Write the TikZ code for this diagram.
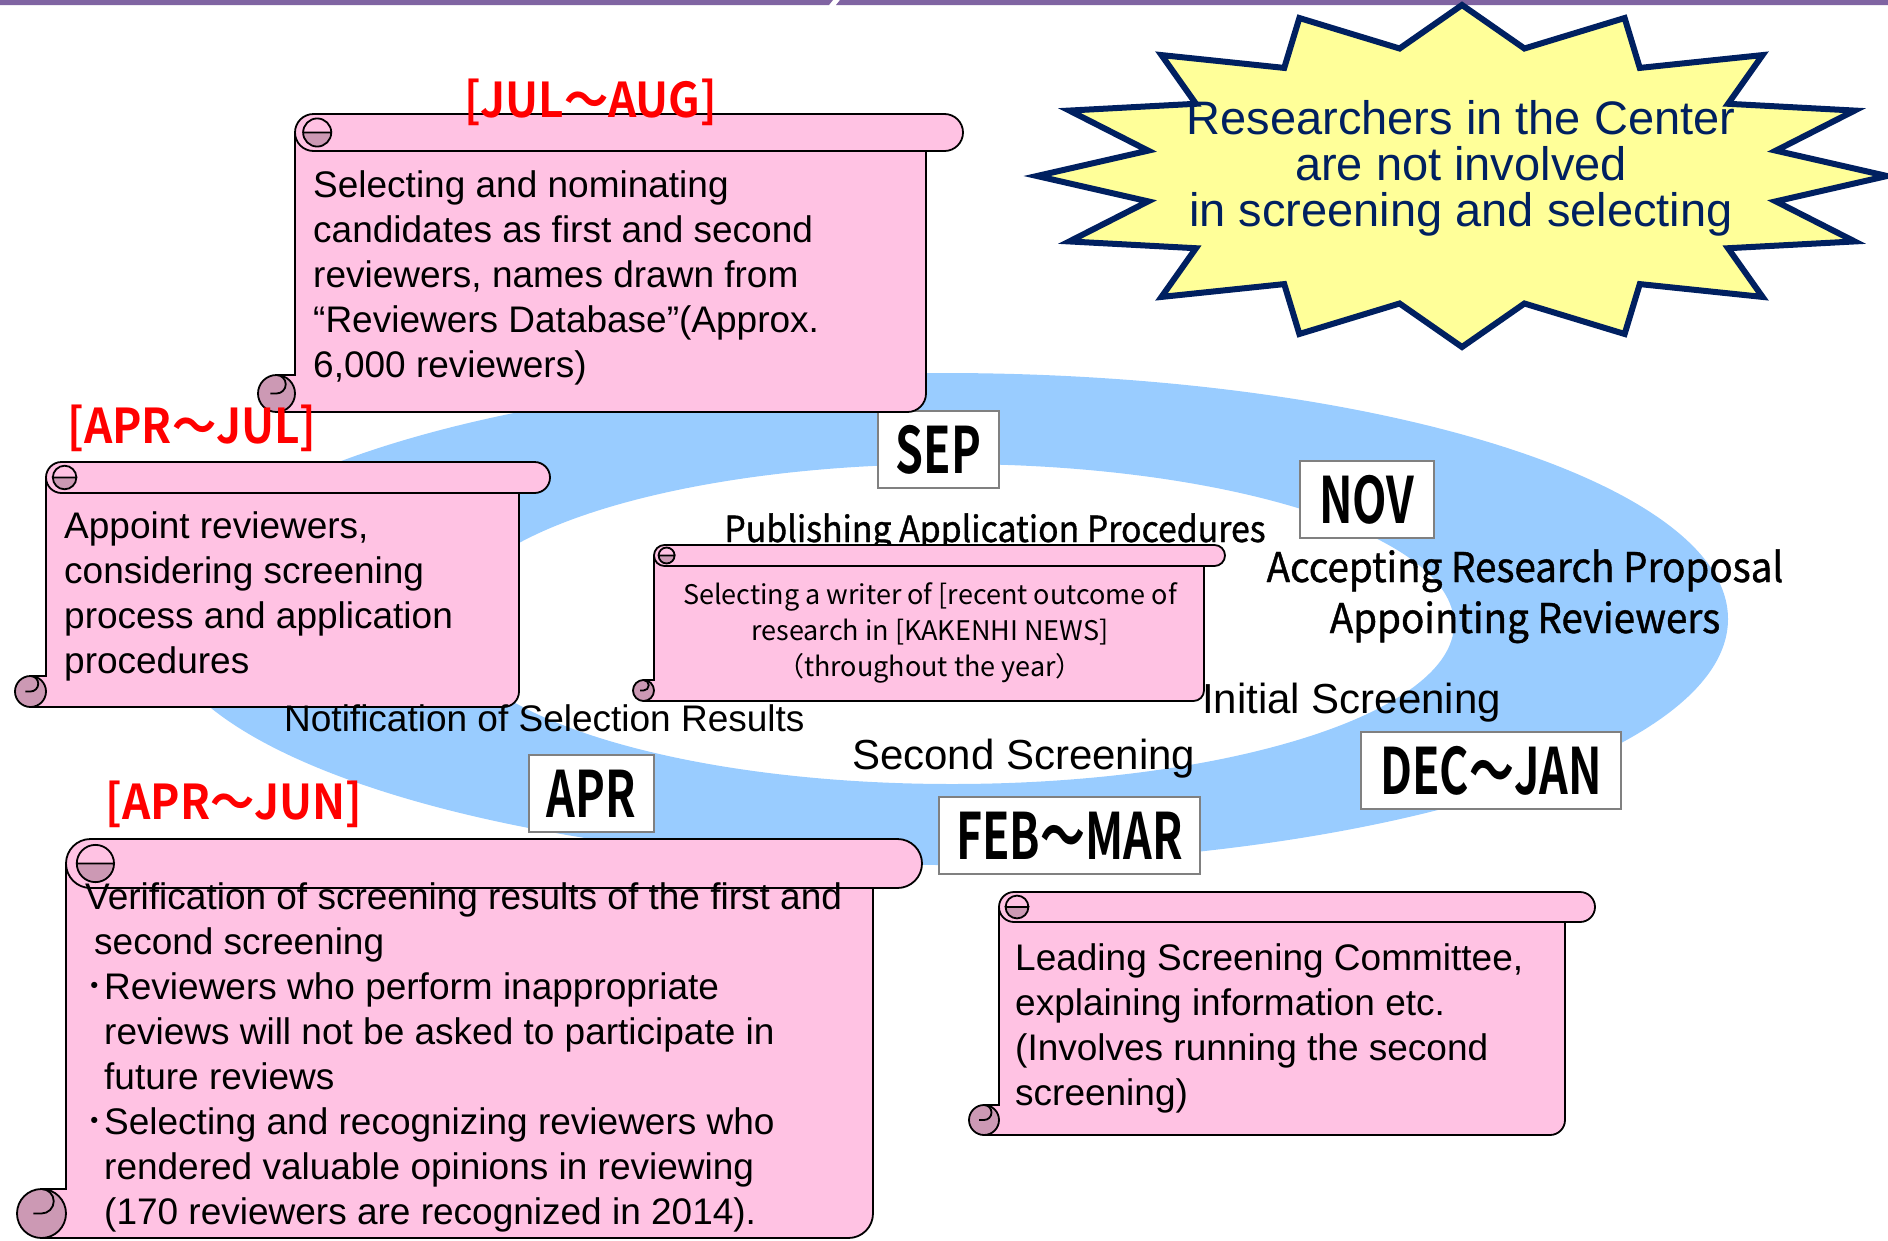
\documentclass[tikz,border=0pt]{standalone}
\usepackage{fontspec}
\setmainfont{Liberation Sans}
\newfontfamily\gothic{Noto Sans CJK JP}
\newfontfamily\gothicmed[FakeBold=1, FakeStretch=0.94]{Noto Sans CJK JP}
\newfontfamily\gothicbold[FakeStretch=0.92]{Noto Sans CJK JP Bold}
\newfontfamily\gothicmonth[FakeStretch=0.7]{Noto Sans CJK JP Bold}
\usetikzlibrary{calc}

\definecolor{scrollpink}{RGB}{255,194,227}
\definecolor{curlpink}{RGB}{204,153,180}
\definecolor{ringblue}{RGB}{153,204,255}
\definecolor{staryellow}{RGB}{255,255,153}
\definecolor{starnavy}{RGB}{0,32,96}
\definecolor{barpurple}{RGB}{128,100,162}
\definecolor{boxgray}{RGB}{128,128,128}

\begin{document}
\begin{tikzpicture}[x=1pt,y=-1pt]
	\tikzset	{
		scroll/.pic={
			code={
				\pgfmathsetmacro{\rr}{\rh/2}
				\filldraw[fill=scrollpink]	(0,\rr) -- (0,{\sh-\rh}) -- (-\rr,{\sh-\rh}) -- (-\rr,\sh) -- ({\sw-\rh-\rr},\sh) arc[start angle=90, end angle=0, radius=\rr] -- ({\sw-\rh},\rr) -- cycle;
				\filldraw[fill=curlpink]	(-\rr,{\sh-\rr}) circle (\rr);
				\draw[]		(-\rr,{\sh-\rh}) arc[start angle=270, end angle=450, radius={\rr/2}] -- ++({-\rr/3},0);
				\filldraw[fill=scrollpink]	(0,\rr) arc[start angle=180, end angle=270, radius=\rr] -- ({\sw-\rr},0) arc[start angle=-90, end angle=90, radius=\rr] -- (\rr,\rh) arc[start angle=90, end angle=180, radius=\rr] -- cycle;
				\filldraw[fill=curlpink]	({0.98*\rh},{0.5*\rh}) arc[start angle=0, end angle=180, radius={0.38*\rh}] -- cycle;
				\draw[]		({0.22*\rh},{0.5*\rh}) arc[start angle=180, end angle=360, radius={0.38*\rh}];
			}
		},
	}
	\tikzset	{
		scrolltext/.style={font=\fontsize{37}{45}\selectfont, align=left, anchor=north west, inner sep=0pt},
		ringtext/.style={font=\fontsize{42}{45}\selectfont, anchor=base west, inner sep=0pt},
		monthbox/.style={draw=boxgray, fill=white, line width=1.5pt, minimum height=77, inner sep=0pt, font=\gothicmonth\fontsize{64}{64}\selectfont},
		period/.style={text=red, anchor=base, inner sep=0pt, font=\gothicbold\fontsize{48}{48}\selectfont},
	}
	\useasboundingbox (0,0) rectangle (1888,1240);

	% top bar
	\fill[barpurple]	(0,0) -- (833,0) -- (829,5) -- (0,5) -- cycle;
	\fill[barpurple]	(840,0) -- (1888,0) -- (1888,5) -- (836,5) -- cycle;

	% ring
	\fill[ringblue, even odd rule]	(943,619) ellipse [x radius=785, y radius=246] (952,624) ellipse [x radius=502, y radius=160];

	% star
	\def\RX{425}
	\def\RY{171}
	\def\rx{320}
	\def\ry{130}
	\begin{scope}[shift={(1462,176)}]
		\filldraw[fill=staryellow, draw=starnavy, line width=6pt]	(90:{\RX} and {\RY})
			\foreach \k in {0,...,15} { -- ({101.25+22.5*\k}:{\rx} and {\ry}) -- ({112.5+22.5*\k}:{\RX} and {\RY}) } -- cycle;
	\end{scope}
	\node[align=center, text=starnavy, inner sep=0pt, font=\fontsize{47}{46}\selectfont] (note) at (1461,168) {Researchers in the Center\\are not involved\\in screening and selecting};

	% months
	\node[monthbox, minimum width=121] (sep) at (938.5,449.5) {SEP};
	\node[monthbox, minimum width=134] (nov) at (1367,499.5) {NOV};
	\node[monthbox, minimum width=260] (decjan) at (1491,770.5) {DEC～JAN};
	\node[monthbox, minimum width=261] (febmar) at (1069.5,835.5) {FEB～MAR};
	\node[monthbox, minimum width=125] (apr) at (591.5,793.5) {APR};

	\node[anchor=base, inner sep=0pt, font=\gothicmed\fontsize{36}{36}\selectfont] (publish) at (995,542) {Publishing Application Procedures};

	% scrolls
	\def\sw{668}\def\sh{298}\def\rh{37}
	\coordinate (s1) at (295,114);
	\pic[line width=1.8pt] at (s1) {scroll};
	\node[scrolltext] (t1) at (313,170) {Selecting and nominating\\candidates as first and second\\reviewers, names drawn from\\“Reviewers Database”(Approx.\\6,000 reviewers)};
	\node[period] (julaug) at (591,117) {[JUL～AUG]};

	\def\sw{504}\def\sh{245}\def\rh{31}
	\coordinate (s2) at (46,462);
	\pic[line width=1.8pt] at (s2) {scroll};
	\node[scrolltext] (t2) at (64,511) {Appoint reviewers,\\considering screening\\process and application\\procedures};
	\node[period] (aprjul) at (192,443) {[APR～JUL]};

	\def\sw{571}\def\sh{156}\def\rh{21}
	\coordinate (s3) at (654,545);
	\pic[line width=1.8pt] at (s3) {scroll};
	\node[align=center, inner sep=0pt, font=\gothic\fontsize{27}{36}\selectfont] (t3) at (930,633) {Selecting a writer of [recent outcome of\\research in [KAKENHI NEWS]\\（throughout the year）};

	\def\sw{856}\def\sh{399}\def\rh{49}
	\coordinate (s4) at (66,839);
	\pic[line width=1.8pt] at (s4) {scroll};
	\node[scrolltext] (t4) at (85,882) {Verification of screening results of the first and\\
		\hspace*{9pt}second screening\\
		\makebox[19pt][l]{\gothic ･}Reviewers who perform inappropriate\\
		\hspace*{19pt}reviews will not be asked to participate in\\
		\hspace*{19pt}future reviews\\
		\makebox[19pt][l]{\gothic ･}Selecting and recognizing reviewers who\\
		\hspace*{19pt}rendered valuable opinions in reviewing\\
		\hspace*{19pt}(170 reviewers are recognized in 2014).};
	\node[period] (aprjun) at (234,819) {[APR～JUN]};

	\def\sw{596}\def\sh{243}\def\rh{30}
	\coordinate (s5) at (999,892);
	\pic[line width=1.8pt] at (s5) {scroll};
	\node[scrolltext] (t5) at (1015,943) {Leading Screening Committee,\\explaining information etc.\\(Involves running the second\\screening)};

	% ring labels
	\node[anchor=base, inner sep=0pt, font=\gothicmed\fontsize{41}{41}\selectfont] (accept) at (1525,582) {Accepting Research Proposal};
	\node[anchor=base, inner sep=0pt, font=\gothicmed\fontsize{41}{41}\selectfont] (appoint) at (1525,633) {Appointing Reviewers};
	\node[ringtext] (initial) at (1202,713) {Initial Screening};
	\node[ringtext] (second) at (852,769) {Second Screening};
	\node[ringtext, font=\fontsize{37}{45}\selectfont] (notify) at (284,731) {Notification of Selection Results};
\end{tikzpicture}
\end{document}
